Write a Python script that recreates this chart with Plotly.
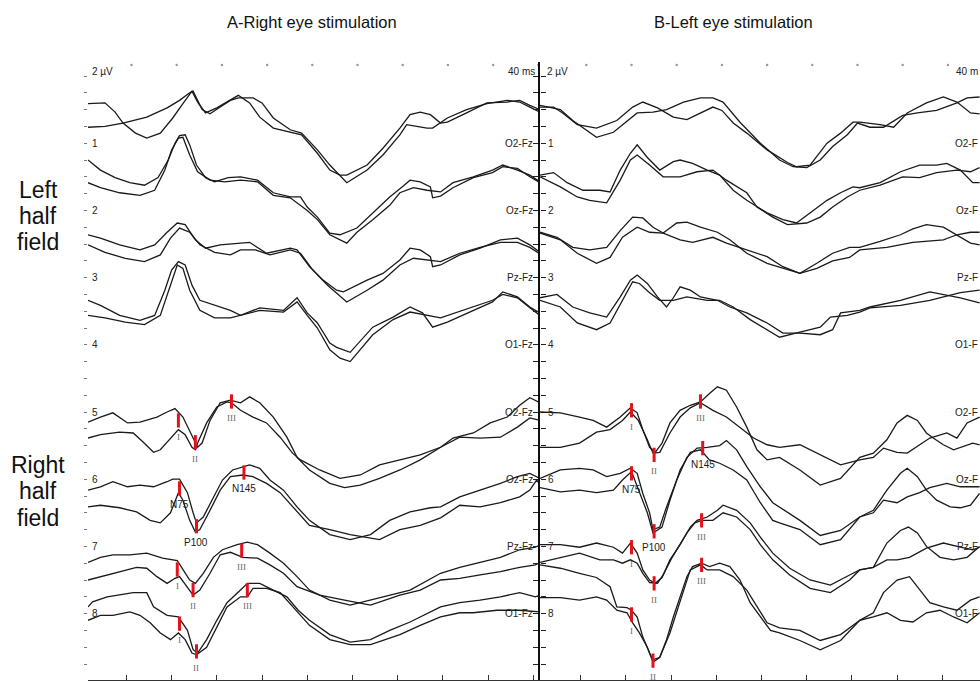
import plotly.graph_objects as go

# ---------------- data: (time in ms, amplitude in µV relative to the channel reference line) ----------------
# Panel A (right eye stimulation), channels 1..8, two superimposed traces each
A1a = [(0,4.7),(15,4.8),(24,3.7),(31,2.4),(42,1.2),(52,0.6),(64,1.2),(75,3.0),(84,4.7),(88,5.5),(92,6.2),(97,4.9),(104,3.6),(114,4.2),(123,4.9),(133,5.7),(143,4.8),(152,3.1),(164,1.8),(179,1.3),(189,1.0),(203,-1.2),(214,-3.2),(223,-3.8),(229,-3.8),(247,-2.6),(261,-0.6),(276,1.8),(285,3.4),(294,3.7),(303,3.4),(312,2.4),(318,2.5),(335,3.6),(353,4.8),(371,4.9),(382,5.1),(391,4.5),(400,4.0)]
A1b = [(0,1.9),(15,2.0),(31,2.4),(52,3.1),(70,4.2),(81,5.1),(90,6.0),(93,6.2),(101,4.0),(108,3.5),(117,4.3),(126,5.1),(133,5.4),(146,5.4),(154,4.8),(164,3.0),(179,1.6),(189,1.2),(203,-0.8),(214,-2.6),(229,-4.7),(247,-3.2),(261,-1.4),(276,1.0),(282,2.2),(300,1.8),(305,1.8),(318,3.0),(335,4.0),(353,4.7),(371,5.1),(382,4.9),(391,4.3),(400,3.7)]
A2a = [(0,6.0),(11,4.8),(24,3.9),(37,3.3),(50,3.0),(62,3.9),(71,6.0),(77,8.0),(81,8.9),(86,9.0),(90,7.8),(96,5.4),(104,3.9),(112,3.4),(124,3.9),(135,4.0),(150,3.6),(164,2.1),(179,1.6),(188,1.6),(194,0.4),(203,-0.8),(214,-2.7),(223,-2.9),(238,-2.1),(252,-0.3),(267,1.6),(279,2.9),(285,3.6),(294,3.4),(303,2.8),(305,1.5),(312,1.7),(323,2.7),(341,3.9),(358,4.5),(367,5.2),(380,5.0),(391,4.0),(400,3.3)]
A2b = [(0,3.3),(11,2.7),(28,2.1),(46,1.8),(59,2.4),(68,4.8),(74,7.2),(80,8.6),(84,8.7),(90,6.6),(97,4.6),(108,3.6),(121,3.4),(135,3.6),(150,3.4),(164,1.8),(179,1.5),(194,0.0),(203,-1.1),(214,-2.9),(229,-3.9),(238,-2.6),(252,-1.1),(267,0.6),(276,2.1),(288,2.7),(300,2.4),(312,2.2),(323,3.3),(341,4.0),(358,4.8),(367,5.4),(380,4.8),(391,4.2),(400,3.4)]
A3a = [(0,5.1),(11,4.7),(28,3.9),(46,3.3),(59,3.9),(70,5.4),(79,6.5),(86,6.3),(95,4.5),(104,3.5),(117,3.9),(135,4.1),(143,4.2),(158,2.9),(179,3.5),(185,3.3),(196,1.3),(208,-0.3),(220,-1.5),(226,-1.7),(247,-0.3),(261,0.5),(276,2.1),(285,3.5),(294,3.3),(303,2.5),(305,1.3),(312,1.5),(329,2.7),(347,3.5),(365,4.5),(380,4.7),(391,3.9),(400,3.0)]
A3b = [(0,3.9),(15,3.0),(33,2.3),(50,1.9),(64,2.7),(73,4.7),(81,5.9),(90,5.4),(99,3.9),(112,3.0),(126,2.7),(135,3.3),(148,3.3),(161,2.7),(179,3.3),(188,2.9),(199,0.9),(212,-0.9),(229,-2.9),(247,-1.5),(261,-0.3),(276,1.5),(288,2.3),(312,1.9),(329,2.9),(347,3.6),(365,4.2),(380,4.2),(391,3.6),(400,2.8)]
A4a = [(0,5.3),(11,4.7),(28,3.5),(46,2.9),(59,3.5),(68,6.5),(74,8.9),(80,9.9),(86,9.5),(92,7.1),(99,5.3),(112,4.7),(126,4.1),(135,3.5),(152,4.4),(173,4.1),(185,5.6),(194,3.8),(203,2.6),(214,0.2),(220,-0.3),(232,-0.9),(252,2.1),(270,3.3),(285,4.5),(296,3.8),(305,2.1),(318,2.7),(341,4.1),(358,5.1),(367,6.3),(380,5.7),(391,4.5),(400,3.8)]
A4b = [(0,3.5),(15,3.2),(33,2.7),(50,2.4),(64,3.5),(73,7.1),(79,9.5),(84,9.1),(90,6.5),(99,4.1),(112,3.2),(126,3.2),(135,3.5),(152,4.1),(173,3.9),(185,5.1),(194,3.5),(203,2.0),(214,-0.6),(223,-1.6),(232,-2.0),(252,1.2),(270,3.0),(285,3.9),(312,3.2),(341,4.5),(358,5.3),(367,6.0),(380,5.6),(391,4.4),(400,3.5)]
A5a = [(0,-1.2),(11,-0.6),(22,-0.1),(35,-1.3),(46,-1.2),(61,-0.6),(70,0.0),(77,0.4),(84,-0.6),(93,-3.0),(97,-4.2),(101,-3.7),(108,-1.0),(117,1.1),(126,1.4),(135,1.1),(143,1.8),(152,1.1),(164,-0.6),(176,-3.0),(185,-5.4),(196,-6.9),(214,-8.5),(227,-9.0),(241,-8.7),(258,-7.9),(276,-6.9),(294,-5.7),(312,-4.2),(323,-3.1),(341,-2.5),(356,-1.3),(371,-0.6),(382,0.8),(391,1.7),(400,1.1)]
A5b = [(0,-3.1),(11,-2.7),(28,-2.4),(40,-2.5),(49,-3.6),(58,-4.8),(64,-4.5),(73,-3.1),(80,-2.1),(86,-2.7),(92,-4.2),(95,-4.5),(97,-3.7),(105,-1.3),(114,0.6),(123,1.2),(127,1.1),(135,0.2),(146,-0.6),(158,-1.3),(170,-3.0),(181,-4.9),(188,-5.7),(205,-6.9),(223,-7.9),(241,-7.5),(258,-6.3),(276,-5.7),(294,-5.1),(312,-4.2),(329,-3.0),(347,-3.1),(365,-3.0),(380,-1.8),(391,-0.7),(400,-1.0)]
A6a = [(0,-1.3),(11,-0.9),(22,-0.3),(35,-0.9),(46,-0.7),(58,-0.9),(70,-0.3),(75,0.0),(81,0.0),(88,-1.6),(93,-4.0),(96,-5.2),(102,-4.5),(111,-2.1),(119,-0.1),(128,1.1),(137,1.5),(143,1.7),(152,1.3),(161,-0.1),(173,-1.3),(185,-3.3),(196,-4.9),(214,-6.6),(232,-7.2),(250,-6.6),(267,-4.9),(285,-3.9),(303,-3.4),(312,-3.3),(329,-2.1),(347,-1.3),(365,-0.5),(380,0.3),(391,0.7),(400,0.1)]
A6b = [(0,-3.3),(11,-3.1),(28,-3.4),(43,-3.9),(55,-4.9),(64,-5.2),(73,-4.0),(80,-1.6),(84,-2.5),(90,-4.9),(95,-6.3),(99,-6.0),(108,-3.7),(117,-1.3),(126,0.3),(137,0.5),(146,0.3),(158,-0.5),(170,-1.6),(181,-3.3),(196,-5.5),(214,-6.0),(232,-6.6),(258,-7.2),(276,-6.0),(294,-5.5),(312,-4.6),(329,-3.1),(347,-3.3),(365,-2.8),(382,-2.1),(391,-1.3),(397,-0.1),(400,-0.6)]
A7a = [(0,-1.9),(11,-1.3),(22,-1.0),(37,-1.0),(52,-0.8),(66,-1.4),(79,-1.7),(84,-2.8),(90,-4.0),(95,-4.4),(102,-3.2),(111,-1.3),(119,-0.4),(132,0.2),(141,0.5),(150,0.2),(161,-0.8),(173,-2.0),(185,-3.6),(196,-5.2),(214,-6.4),(232,-7.0),(250,-6.4),(267,-5.8),(285,-5.2),(312,-3.2),(329,-2.5),(347,-1.9),(365,-1.3),(382,-0.4),(396,-0.1),(400,0.2)]
A7b = [(0,-4.0),(11,-3.6),(28,-3.0),(43,-2.5),(52,-2.6),(61,-3.6),(70,-4.4),(77,-3.8),(81,-3.6),(88,-4.8),(93,-5.8),(99,-5.2),(108,-3.2),(117,-1.0),(126,-0.7),(137,-1.3),(150,-1.4),(161,-2.2),(173,-3.2),(185,-4.8),(205,-5.8),(227,-6.4),(250,-7.0),(276,-5.8),(294,-5.2),(312,-4.0),(329,-3.8),(347,-3.4),(365,-3.0),(382,-2.5),(396,-2.2),(400,-1.9)]
A8a = [(0,0.8),(4,1.4),(17,2.0),(28,2.2),(40,2.5),(52,2.5),(58,0.8),(70,-0.2),(80,-0.4),(88,-2.0),(93,-4.3),(97,-4.7),(105,-3.1),(114,-0.8),(123,1.3),(135,2.8),(141,3.6),(152,3.6),(164,2.8),(176,2.0),(186,0.4),(196,-0.8),(214,-2.5),(232,-3.4),(250,-3.1),(267,-2.0),(285,-1.0),(312,0.8),(329,1.3),(347,1.6),(365,2.0),(382,2.5),(396,2.0),(400,2.2)]
A8b = [(0,-0.8),(11,-0.2),(22,-0.2),(37,0.2),(46,-0.2),(55,-1.1),(64,-2.3),(73,-3.1),(80,-2.3),(86,-3.1),(92,-4.7),(96,-4.9),(105,-4.0),(114,-1.6),(123,0.8),(135,2.0),(141,2.0),(146,3.0),(158,3.0),(170,2.5),(181,0.8),(196,-1.4),(214,-3.1),(232,-3.7),(250,-3.7),(276,-2.5),(294,-1.4),(312,-0.4),(329,0.1),(341,0.1),(362,0.4),(382,0.4),(400,0.2)]

# Panel B (left eye stimulation)
B1a = [(0,4.3),(12,4.3),(20,3.6),(33,2.2),(50,1.8),(68,2.7),(82,4.3),(91,4.9),(104,4.2),(118,3.1),(130,2.8),(142,3.6),(153,4.3),(161,3.9),(171,2.4),(183,1.2),(201,-0.8),(219,-2.3),(227,-2.8),(239,-2.6),(254,0.0),(266,1.2),(277,2.5),(283,2.5),(301,2.2),(313,1.9),(325,3.6),(342,4.8),(357,5.5),(369,4.9),(381,3.6),(389,3.5)]
B1b = [(0,4.5),(18,4.0),(29,2.7),(50,0.7),(65,1.3),(86,3.6),(100,3.7),(112,4.0),(127,4.9),(142,5.4),(153,5.4),(162,4.9),(177,2.5),(195,0.0),(212,-2.0),(224,-2.8),(236,-2.9),(248,-2.0),(259,-0.4),(272,1.0),(281,2.4),(292,1.9),(304,1.9),(321,3.3),(334,3.6),(351,3.9),(369,4.8),(378,5.4),(389,5.5)]
B2a = [(0,4.2),(12,4.5),(24,3.3),(38,2.4),(53,2.4),(62,2.2),(71,4.8),(80,6.8),(86,7.8),(95,6.3),(106,4.8),(118,5.8),(124,6.0),(135,5.6),(148,4.8),(159,4.2),(171,2.4),(183,1.2),(201,-0.3),(215,-1.1),(227,-1.5),(239,-0.3),(254,1.2),(266,2.1),(277,2.8),(283,2.7),(301,3.3),(319,4.6),(336,5.4),(351,5.4),(360,5.6),(372,4.8),(383,3.3),(389,3.3)]
B2b = [(0,4.0),(18,2.8),(33,1.6),(44,1.2),(59,0.9),(71,3.6),(80,6.0),(86,6.6),(97,5.4),(109,4.0),(124,4.0),(139,4.6),(153,4.8),(165,3.6),(183,2.1),(192,0.4),(206,-0.8),(219,-1.7),(236,-1.5),(248,-0.8),(259,0.4),(272,1.6),(283,2.4),(301,3.0),(321,4.0),(336,3.9),(351,4.5),(369,4.8),(381,4.6),(389,5.1)]
B3a = [(0,5.4),(15,4.8),(29,3.6),(44,3.3),(59,3.6),(71,5.6),(82,7.2),(91,7.1),(100,6.0),(109,5.3),(121,6.5),(130,6.6),(142,6.0),(157,5.4),(168,4.5),(183,2.9),(201,1.7),(219,0.9),(230,0.5),(245,1.7),(259,2.9),(274,3.6),(283,3.6),(301,4.3),(319,5.1),(330,5.8),(342,6.3),(357,6.0),(369,5.1),(381,4.1),(389,3.9)]
B3b = [(0,5.3),(18,4.5),(33,2.9),(50,1.7),(62,2.4),(73,4.8),(86,6.0),(97,5.4),(109,5.3),(124,4.5),(135,4.2),(153,4.8),(165,4.1),(183,3.3),(201,2.5),(215,1.3),(230,0.5),(245,1.1),(259,2.0),(274,2.4),(283,3.3),(307,3.6),(330,4.2),(357,4.5),(369,5.1),(381,5.4),(389,5.4)]
B4a = [(0,5.6),(15,6.0),(29,4.5),(44,3.8),(59,3.3),(71,5.7),(80,7.7),(86,8.3),(95,7.3),(104,5.7),(112,4.5),(118,5.6),(124,6.9),(133,6.5),(142,5.7),(157,5.3),(168,4.5),(183,3.8),(201,2.6),(215,1.4),(230,1.4),(248,1.2),(259,1.8),(266,3.8),(283,4.1),(292,4.5),(319,5.3),(345,6.3),(372,5.6),(389,5.0)]
B4b = [(0,5.3),(18,4.5),(33,2.6),(50,1.8),(62,2.6),(73,5.3),(82,7.5),(88,7.3),(97,6.2),(106,5.3),(118,5.3),(130,5.7),(148,5.3),(159,5.3),(171,4.5),(186,3.0),(201,1.8),(212,0.9),(230,1.5),(248,2.1),(257,3.3),(272,3.5),(283,3.9),(292,4.4),(319,4.7),(345,5.3),(372,6.2),(389,6.5)]
B5a = [(0,0.0),(18,-0.1),(35,-0.6),(47,-1.0),(59,-1.8),(71,-0.6),(80,0.5),(86,-0.1),(91,-2.1),(97,-4.2),(102,-4.8),(108,-3.7),(115,-1.3),(124,0.2),(133,0.8),(142,1.2),(150,2.2),(157,3.0),(165,2.6),(174,0.6),(183,-1.8),(192,-4.5),(201,-5.7),(212,-5.4),(230,-6.9),(248,-8.7),(266,-7.9),(283,-5.4),(295,-4.9),(307,-3.3),(316,-1.3),(325,-0.4),(334,-1.0),(342,-2.5),(348,-3.1),(357,-3.9),(366,-4.5),(372,-4.2),(383,-3.7),(389,-3.9)]
B5b = [(0,-4.2),(18,-4.2),(35,-3.7),(50,-2.4),(62,-2.1),(73,-1.0),(80,0.0),(87,-1.0),(95,-3.3),(100,-4.9),(106,-4.8),(115,-2.5),(124,-0.6),(133,0.5),(142,1.1),(153,0.2),(165,-0.6),(177,-1.8),(189,-3.1),(201,-3.9),(212,-4.2),(230,-3.9),(248,-5.1),(266,-6.3),(283,-5.7),(295,-5.4),(304,-4.3),(316,-4.8),(325,-4.9),(336,-3.9),(345,-3.1),(360,-2.5),(369,-3.1),(378,-1.3),(389,-0.6)]
B6a = [(0,0.1),(18,1.1),(35,1.3),(47,1.1),(59,0.3),(71,0.7),(80,1.3),(86,0.7),(91,-1.7),(97,-4.0),(100,-6.0),(106,-5.7),(112,-3.3),(121,-0.1),(130,2.6),(139,3.7),(148,3.8),(159,4.0),(165,4.6),(174,3.5),(183,1.5),(195,-0.9),(206,-2.8),(212,-3.3),(230,-4.9),(248,-6.7),(266,-6.1),(283,-4.5),(295,-3.7),(307,-1.3),(319,0.7),(325,1.3),(334,0.3),(342,-1.3),(351,-2.5),(363,-3.3),(372,-3.4),(381,-3.1),(389,-1.7)]
B6b = [(0,-1.0),(18,-1.5),(35,-1.3),(50,-1.6),(65,-1.3),(73,-0.1),(81,0.9),(87,-1.3),(95,-4.0),(100,-6.4),(108,-5.7),(115,-2.5),(124,1.1),(133,3.2),(142,3.5),(150,2.3),(159,1.9),(171,1.1),(183,-0.1),(195,-2.8),(206,-4.9),(212,-5.2),(230,-6.0),(248,-7.8),(266,-7.2),(283,-4.5),(295,-4.0),(304,-2.5),(316,-2.8),(325,-2.1),(336,-1.6),(345,-1.0),(360,-0.5),(372,-0.9),(381,-0.9),(389,-0.9)]
B7a = [(0,0.2),(18,0.2),(35,-0.1),(50,0.4),(65,-0.1),(73,-0.8),(80,0.4),(86,-0.8),(91,-2.8),(97,-4.0),(102,-4.4),(108,-3.7),(115,-1.6),(124,0.2),(133,2.3),(139,3.1),(148,3.5),(157,4.3),(162,4.9),(174,4.3),(186,2.8),(195,1.1),(206,-0.8),(221,-2.6),(239,-4.0),(257,-4.6),(274,-3.4),(283,-2.8),(295,-2.5),(307,0.4),(319,1.9),(326,2.3),(334,1.6),(342,0.0),(354,-1.3),(366,-1.6),(378,-1.3),(389,0.0)]
B7b = [(0,-1.9),(18,-1.3),(35,-0.8),(53,-1.6),(65,-1.6),(73,-2.0),(80,-1.6),(86,-2.0),(91,-3.2),(97,-4.3),(104,-4.4),(109,-3.4),(117,-1.3),(130,1.6),(137,2.8),(143,3.1),(153,3.1),(162,4.0),(174,3.5),(186,2.0),(195,0.2),(206,-1.6),(221,-3.4),(239,-5.0),(257,-5.5),(274,-4.0),(283,-2.8),(295,-2.5),(307,-1.6),(316,-1.6),(327,-1.3),(342,-0.2),(357,0.4),(372,-0.1),(383,-0.4),(389,-0.1)]
B8a = [(0,5.8),(18,5.4),(35,4.8),(50,4.3),(62,3.2),(68,0.8),(77,0.7),(81,0.4),(86,-0.4),(91,-2.8),(97,-4.7),(100,-5.5),(106,-5.2),(112,-3.1),(118,-0.4),(124,2.0),(130,4.4),(135,5.6),(143,6.0),(150,5.6),(159,6.0),(168,5.6),(177,4.0),(186,1.3),(195,-0.4),(204,-2.0),(212,-2.3),(230,-3.2),(248,-4.3),(266,-3.2),(283,-0.8),(295,0.1),(304,2.5),(316,4.0),(327,4.4),(336,2.8),(345,1.3),(357,0.8),(369,0.4),(381,1.6),(389,2.0)]
B8b = [(0,1.9),(18,1.9),(35,1.6),(50,2.0),(59,1.6),(68,0.4),(77,0.1),(82,-1.1),(88,-2.3),(95,-4.0),(100,-5.8),(106,-5.2),(115,-2.3),(124,1.6),(133,5.2),(142,5.8),(148,5.2),(159,5.2),(171,4.4),(183,2.8),(192,0.8),(201,-1.1),(212,-1.7),(230,-2.0),(248,-3.2),(266,-2.5),(283,-0.8),(295,-0.4),(307,0.1),(319,-0.8),(330,-1.0),(342,0.1),(354,0.4),(366,-0.4),(378,-1.1),(389,0.1)]

CHANNEL_NAMES = ["O2-Fz", "Oz-Fz", "Pz-Fz", "O1-Fz", "O2-Fz", "Oz-Fz", "Pz-Fz", "O1-Fz"]
CHANNEL_NAMES_CUT = ["O2-F", "Oz-F", "Pz-F", "O1-F", "O2-F", "Oz-F", "Pz-F", "O1-F"]  # as visible at the cropped right edge
CHANNEL_NUMS = ["1", "2", "3", "4", "5", "6", "7", "8"]
A_TRACES = [(A1a, A1b), (A2a, A2b), (A3a, A3b), (A4a, A4b), (A5a, A5b), (A6a, A6b), (A7a, A7b), (A8a, A8b)]
B_TRACES = [(B1a, B1b), (B2a, B2b), (B3a, B3b), (B4a, B4b), (B5a, B5b), (B6a, B6b), (B7a, B7b), (B8a, B8b)]

# peak markers: (channel, label, latency ms, amplitude µV)
A_MARKS = [(5, "I", 80, -1.0), (5, "II", 95, -3.6), (5, "III", 127, 1.25),
           (6, "N75", 81, -1.1), (6, "P100", 96, -5.6), (6, "N145", 138, 0.8),
           (7, "I", 79, -2.75), (7, "II", 93, -5.2), (7, "III", 136, -0.5),
           (8, "I", 81, -1.2), (8, "II", 96, -4.5), (8, "III", 141, 2.8)]
B_MARKS = [(5, "I", 81, 0.2), (5, "II", 101, -5.1), (5, "III", 142, 1.25),
           (6, "N75", 81, 0.7), (6, "P100", 101, -6.2), (6, "N145", 144, 3.7),
           (7, "I", 81, -0.1), (7, "II", 101, -4.4), (7, "III", 143, 3.1),
           (8, "I", 81, -0.1), (8, "II", 100, -5.6), (8, "III", 143, 5.8)]

A_TOP_TICKS = [38.5 + 40 * i for i in range(10)]
B_TOP_TICKS = [41 + 40 * i for i in range(9)]
A_BOTTOM_TICKS = [34 + 40 * i for i in range(10)]
B_BOTTOM_TICKS = [36 + 40 * i for i in range(10)]
CH_SPACING = 8.0   # µV between channel reference lines
UV_TICKS = [-2 * i for i in range(37)]

# ---------------- figure ----------------
W, H = 980, 682
fig = go.Figure()
LINE = dict(color="#1a1a1a", width=1.3)

def add_panel(traces, marks, xa, top_ticks):
    for k, pair in enumerate(traces, start=1):
        for tr in pair:
            fig.add_trace(go.Scatter(x=[p[0] for p in tr], y=[p[1] - CH_SPACING * k for p in tr],
                                     mode="lines", line=LINE, xaxis=xa, yaxis="y",
                                     hoverinfo="skip", showlegend=False))
    mx, my = [], []
    for ch, lab, t, a in marks:
        c = a - CH_SPACING * ch
        mx += [t, t, None]
        my += [c - 0.85, c + 0.85, None]
    fig.add_trace(go.Scatter(x=mx, y=my, mode="lines", line=dict(color="#e3121b", width=3),
                             xaxis=xa, yaxis="y", hoverinfo="skip", showlegend=False))
    fig.add_trace(go.Scatter(x=top_ticks, y=[1.3] * len(top_ticks), mode="markers",
                             marker=dict(size=2.5, color="#9a9a9a"), xaxis=xa, yaxis="y",
                             hoverinfo="skip", showlegend=False))
    for ch, lab, t, a in marks:
        c = a - CH_SPACING * ch
        roman = lab in ("I", "II", "III")
        fig.add_annotation(x=t, y=c - 1.95, xref=xa, yref="y", text=lab, showarrow=False,
                           font=dict(family="Liberation Serif" if roman else "Liberation Sans",
                                     size=9 if roman else 10, color="#6b6b6b" if roman else "#1a1a1a"),
                           xanchor="center", yanchor="middle")

add_panel(A_TRACES, A_MARKS, "x", A_TOP_TICKS)
add_panel(B_TRACES, B_MARKS, "x2", B_TOP_TICKS)

# dummy traces so overlay axes render
fig.add_trace(go.Scatter(x=[None], y=[None], xaxis="x2", yaxis="y2", showlegend=False))
fig.add_trace(go.Scatter(x=[None], y=[None], xaxis="x", yaxis="y3", showlegend=False))

lab_font = dict(family="Liberation Sans", size=10, color="#222")
for k in range(1, 9):
    yk = -CH_SPACING * k
    fig.add_annotation(x=1.8, y=yk, xref="x", yref="y", text=CHANNEL_NUMS[k - 1], showarrow=False,
                       xanchor="left", yanchor="middle", font=lab_font)
    fig.add_annotation(x=396, y=yk, xref="x", yref="y", text=CHANNEL_NAMES[k - 1], showarrow=False,
                       xanchor="right", yanchor="middle", font=lab_font)
    fig.add_annotation(x=5.3, y=yk, xref="x2", yref="y", text=CHANNEL_NUMS[k - 1], showarrow=False,
                       xanchor="left", yanchor="middle", font=lab_font)
    fig.add_annotation(x=389, y=yk, xref="x2", yref="y", text=CHANNEL_NAMES_CUT[k - 1], showarrow=False,
                       xanchor="right", yanchor="middle", font=lab_font)
fig.add_annotation(x=1.5, y=0.5, xref="x", yref="y", text="2 µV", showarrow=False,
                   xanchor="left", yanchor="middle", font=lab_font)
fig.add_annotation(x=397, y=0.5, xref="x", yref="y", text="40 ms", showarrow=False,
                   xanchor="right", yanchor="middle", font=lab_font)
fig.add_annotation(x=4.4, y=0.5, xref="x2", yref="y", text="2 µV", showarrow=False,
                   xanchor="left", yanchor="middle", font=lab_font)
fig.add_annotation(x=389, y=0.5, xref="x2", yref="y", text="40 m", showarrow=False,
                   xanchor="right", yanchor="middle", font=lab_font)

title_font = dict(family="Liberation Sans", size=16.5, color="#111")
fig.add_annotation(x=312 / W, y=1 - 22 / H, xref="paper", yref="paper", text="A-Right eye stimulation",
                   showarrow=False, font=title_font, xanchor="center", yanchor="middle")
fig.add_annotation(x=733 / W, y=1 - 22 / H, xref="paper", yref="paper", text="B-Left eye stimulation",
                   showarrow=False, font=title_font, xanchor="center", yanchor="middle")
side_font = dict(family="Liberation Sans", size=23, color="#111")
for word, py in [("Left", 190), ("half", 216), ("field", 242), ("Right", 465), ("half", 491), ("field", 518)]:
    fig.add_annotation(x=38 / W, y=1 - py / H, xref="paper", yref="paper", text=word, showarrow=False,
                       font=side_font, xanchor="center", yanchor="middle")

YR = [-71.905, 1.667]
YDOM = [2 / H, 620 / H]
fig.update_layout(
    width=W, height=H, autosize=False,
    margin=dict(l=0, r=0, t=0, b=0),
    paper_bgcolor="white", plot_bgcolor="rgba(0,0,0,0)",
    showlegend=False,
    xaxis=dict(domain=[88 / W, 540 / W], range=[0, 400], anchor="y", showgrid=False, zeroline=False,
               showticklabels=False, showline=True, linecolor="#333", linewidth=1,
               ticks="inside", ticklen=5, tickcolor="#333", tickvals=A_BOTTOM_TICKS),
    xaxis2=dict(domain=[540 / W, 1], range=[0, 389.4], anchor="y", showgrid=False, zeroline=False,
                showticklabels=False, showline=True, linecolor="#333", linewidth=1,
                ticks="inside", ticklen=5, tickcolor="#333", tickvals=B_BOTTOM_TICKS),
    yaxis=dict(domain=YDOM, range=YR, anchor="x", showgrid=False, zeroline=False, showticklabels=False,
               showline=False, ticks="outside", ticklen=3, tickcolor="#777", tickvals=UV_TICKS),
    yaxis2=dict(range=YR, overlaying="y", anchor="x2", side="left", showgrid=False, zeroline=False,
                showticklabels=False, showline=True, linecolor="#111", linewidth=2,
                ticks="outside", ticklen=5, tickcolor="#222", tickvals=UV_TICKS),
    yaxis3=dict(range=YR, overlaying="y", anchor="x", side="right", showgrid=False, zeroline=False,
                showticklabels=False, showline=False, ticks="outside", ticklen=5, tickcolor="#222",
                tickvals=UV_TICKS),
)

fig.write_html("out.html")
